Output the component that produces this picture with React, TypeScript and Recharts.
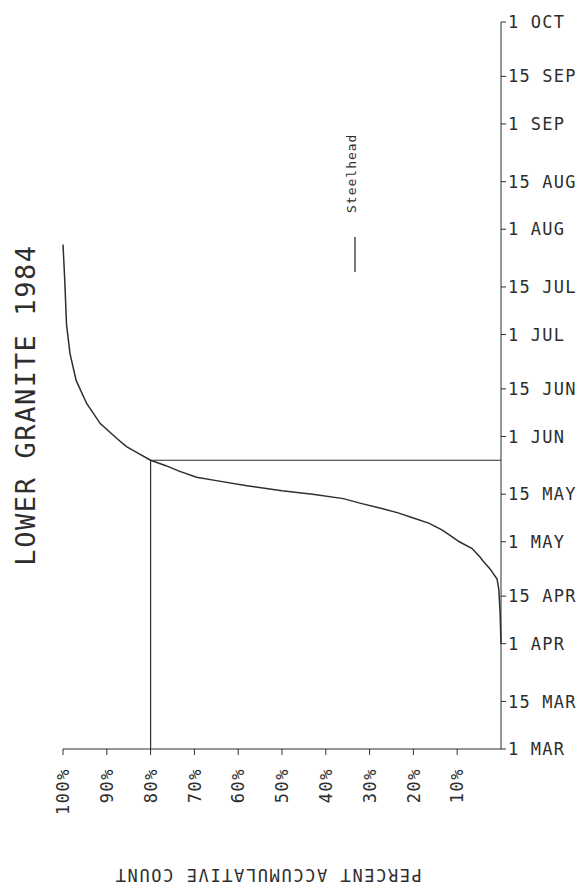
import { ReferenceLine, Scatter, ScatterChart, XAxis, YAxis } from "recharts";

const FONT = '"DejaVu Sans Mono", "Liberation Mono", monospace';
const INK = "#2e2e2e";

// steelhead passage, days counted from 1 MAR 1984
const passageDays = [
  31, 40, 47, 50, 53, 55.5, 56.5, 59, 61, 63, 64.5, 66.5, 68, 69.5, 70.7,
  72.3, 73.7, 75, 76, 77.5, 79, 80, 81.8, 83.4, 85, 87.3, 89, 91.4, 95.8,
  101.7, 108.5, 116.4, 125, 138, 148.5,
];
const passagePercent = [
  0, 0.2, 0.5, 0.9, 2.5, 4.2, 4.8, 6.6, 9.5, 11.8, 13.5, 16.5, 20, 23.5, 27,
  32, 36, 43, 50, 58, 65, 69.5, 73.5, 76.5, 80, 83.2, 85.5, 87.7, 91.5, 94.6,
  97, 98.4, 99.2, 99.6, 100,
];

const dateTicks = [0, 14, 31, 45, 61, 75, 92, 106, 122, 136, 153, 167, 184, 198, 214];
const dateLabels = [
  "1 MAR", "15 MAR", "1 APR", "15 APR", "1 MAY", "15 MAY", "1 JUN", "15 JUN",
  "1 JUL", "15 JUL", "1 AUG", "15 AUG", "1 SEP", "15 SEP", "1 OCT",
];
const percentTicks = [100, 90, 80, 70, 60, 50, 40, 30, 20, 10];

// 80% passage mark
const markPercent = 80;
const markDay = 85;

const rows = passageDays.map((day, i) => ({ day, pct: passagePercent[i] }));

function PercentTick({ x, y, payload }: any) {
  return (
    <text
      x={x}
      y={y}
      transform={`rotate(-90 ${x} ${y})`}
      textAnchor="end"
      dy="0.36em"
      fontFamily={FONT}
      fontSize={17}
      letterSpacing={1.5}
      fill={INK}
    >
      {payload.value}%
    </text>
  );
}

function DateTick({ x, y, payload }: any) {
  const i = dateTicks.indexOf(payload.value);
  return (
    <text
      x={x}
      y={y}
      dy="0.36em"
      textAnchor="start"
      fontFamily={FONT}
      fontSize={17}
      letterSpacing={1.2}
      fill={INK}
    >
      {dateLabels[i]}
    </text>
  );
}

export default function App() {
  return (
    <div
      style={{
        position: "absolute",
        left: 0,
        top: 0,
        width: 580,
        height: 889,
        background: "#fff",
      }}
    >
      <ScatterChart
        width={580}
        height={889}
        margin={{ top: 22, right: 9, bottom: 70, left: 63 }}
      >
        <XAxis
          type="number"
          dataKey="pct"
          domain={[0, 100]}
          reversed
          ticks={percentTicks}
          interval={0}
          height={70}
          tickSize={6}
          tickMargin={13}
          stroke={INK}
          tick={<PercentTick />}
        />
        <YAxis
          type="number"
          dataKey="day"
          orientation="right"
          domain={[0, 214]}
          ticks={dateTicks}
          interval={0}
          width={70}
          tickSize={5}
          tickMargin={2}
          stroke={INK}
          tick={<DateTick />}
        />
        <ReferenceLine
          segment={[
            { x: markPercent, y: 0 },
            { x: markPercent, y: markDay },
          ]}
          stroke={INK}
          strokeWidth={1.2}
          ifOverflow="visible"
        />
        <ReferenceLine
          segment={[
            { x: markPercent, y: markDay },
            { x: 0, y: markDay },
          ]}
          stroke={INK}
          strokeWidth={1.2}
          ifOverflow="visible"
        />
        <Scatter
          data={rows}
          line={{ stroke: INK, strokeWidth: 1.5 }}
          lineType="joint"
          shape={() => <g />}
          isAnimationActive={false}
        />
      </ScatterChart>
      <svg
        width={580}
        height={889}
        style={{ position: "absolute", left: 0, top: 0, pointerEvents: "none" }}
      >
        <text
          x={25}
          y={405}
          transform="rotate(-90 25 405)"
          textAnchor="middle"
          dominantBaseline="central"
          fontFamily={FONT}
          fontSize={27}
          letterSpacing={1.6}
          fill={INK}
        >
          LOWER GRANITE 1984
        </text>
        <text
          x={268}
          y={875}
          transform="rotate(180 268 875)"
          textAnchor="middle"
          dominantBaseline="central"
          fontFamily={FONT}
          fontSize={17}
          letterSpacing={1.6}
          fill={INK}
        >
          PERCENT ACCUMULATIVE COUNT
        </text>
        <line x1={355} y1={237} x2={355} y2={272} stroke={INK} strokeWidth={1.3} />
        <text
          x={351}
          y={213}
          transform="rotate(-90 351 213)"
          textAnchor="start"
          dominantBaseline="central"
          fontFamily={FONT}
          fontSize={13}
          letterSpacing={1}
          fill={INK}
        >
          Steelhead
        </text>
      </svg>
    </div>
  );
}
